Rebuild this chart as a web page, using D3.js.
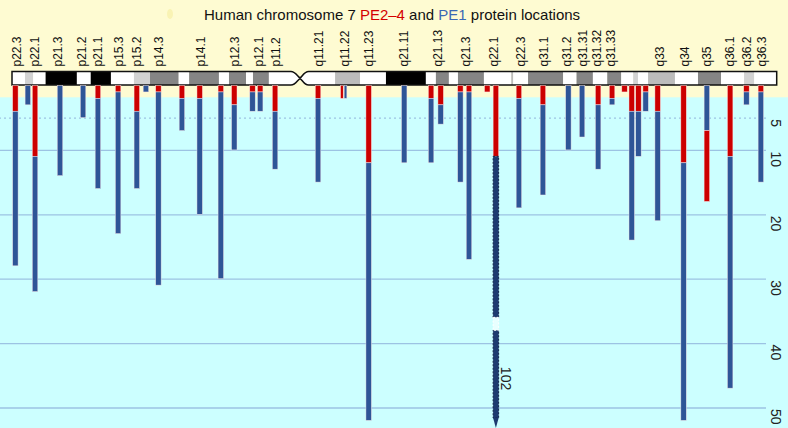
<!DOCTYPE html>
<html><head><meta charset="utf-8">
<script src="https://cdn.jsdelivr.net/npm/d3@7"></script>
<style>html,body{margin:0;padding:0;background:#fff}svg{display:block}</style>
</head><body><svg id="chart" width="788" height="428"></svg>
<script>
// ---------- DATA ----------
const chromLength = 159.3; // Mb
const centromere = [58.1, 60.0, 61.8]; // p-arm end, waist, q-arm start (Mb)

const bandStart = [0,2.7,4.4,7.0,13.5,16.4,20.6,25.4,28.75,34.7,36.9,43.1,45.2,48.75,50.2,53.5,60.0,67.3,72.5,77.9,86.2,88.3,91.0,92.9,98.3,104.0,104.4,107.5,114.8,117.6,121.0,124.0,126.9,129.4,130.4,132.5,138.1,142.9,147.7,152.5,154.6];
const bandEnd   = [2.7,4.4,7.0,13.5,16.4,20.6,25.4,28.75,34.7,36.9,43.1,45.2,48.75,50.2,53.5,60.0,67.3,72.5,77.9,86.2,88.3,91.0,92.9,98.3,104.0,104.4,107.5,114.8,117.6,121.0,124.0,126.9,129.4,130.4,132.5,138.1,142.9,147.7,152.5,154.6,159.3];
const bandStain = ["gneg","gpos25","gneg","gpos100","gneg","gpos100","gneg","gpos25","gpos75","gneg","gpos75","gneg","gpos75","gneg","gpos75","gneg","gneg","gpos50","gneg","gpos100","gneg","gpos75","gneg","gpos75","gneg","gpos50","gneg","gpos75","gneg","gpos75","gneg","gpos75","gneg","gpos25","gneg","gpos50","gneg","gpos75","gneg","gpos25","gneg"];

const labelNames = ["p22.3","p22.1","p21.3","p21.2","p21.1","p15.3","p15.2","p14.3","p14.1","p12.3","p12.1","p11.2","q11.21","q11.22","q11.23","q21.11","q21.13","q21.3","q22.1","q22.3","q31.1","q31.2","q31.31","q31.32","q31.33","q33","q34","q35","q36.1","q36.2","q36.3"];
const labelPos   = [1.0,4.8,9.6,14.6,17.9,22.3,26.1,30.6,39.4,46.4,51.4,54.9,64.0,69.4,74.4,81.6,88.8,94.6,100.3,105.9,110.7,115.5,119.0,121.8,124.8,134.9,140.2,144.8,149.6,153.0,156.1];

const sitePos = [0.7,3.3,4.8,10.0,14.8,17.9,22.1,26.0,27.9,30.5,35.4,39.1,43.5,46.3,50.1,51.7,54.8,63.75,69.1,74.3,81.7,87.3,89.3,93.4,95.2,99.0,100.8,105.6,110.6,115.9,118.75,122.1,125.0,127.6,129.1,130.5,132.0,134.5,139.9,144.75,149.6,153.0,156.0];
const pe24Count = [4,0,11,0,0,2,1,4,0,1,2,2,1,3,1,1,4,2,2,12,0,2,3,1,1,1,11,2,3,0,0,3,2,1,4,4,1,4,12,11,11,1,1];
const pe1Count  = [24,3,21,14,5,14,22,12,1,30,5,18,29,7,3,3,9,13,2,40,12,10,3,14,26,0,91,17,14,10,8,10,1,0,20,7,3,17,40,7,36,2,14];
const siteLayout = ["stack","stack","stack","stack","stack","stack","stack","stack","stack","stack","stack","stack","stack","stack","stack","stack","stack","stack","side","stack","stack","stack","stack","stack","stack","stack","stack","stack","stack","stack","stack","stack","stack","stack","stack","stack","stack","stack","stack","pe1first","stack","stack","stack"];

const tickValues = [5,10,20,30,40,50];
const axisMax = 50;

// ---------- STYLE ----------
const W = 788, H = 428;
const RED = "#cc0000", BLUE = "#2e5597", DARK = "#1d3b70";
const stainColor = {gneg:"#ffffff", gpos25:"#d2d2d2", gpos50:"#bcbcbc", gpos75:"#858585", gpos100:"#000000"};
const FONT = "'Liberation Sans', Arial, Helvetica, sans-serif";
const barW = 5.5;

const svg = d3.select("#chart");
const x = d3.scaleLinear().domain([0, chromLength]).range([12, 776.7]);
const y = d3.scaleLinear().domain([0, axisMax]).range([85.5, 407.5]);

// backgrounds
svg.append("rect").attr("x",0).attr("y",0).attr("width",W).attr("height",H).attr("fill","#ccffff");
svg.append("rect").attr("x",0).attr("y",0).attr("width",W).attr("height",97.3).attr("fill","#fefbd2");
svg.append("ellipse").attr("cx",170).attr("cy",14).attr("rx",3).attr("ry",5).attr("fill","#f7efa6").attr("opacity",0.7);

// axis / grid
const axisG = svg.append("g").attr("transform","translate(766,0)")
  .call(d3.axisRight(y).tickValues(tickValues).tickSize(-766).tickPadding(0));
axisG.select(".domain").remove();
axisG.selectAll(".tick line").attr("stroke","#9cc3e3").attr("stroke-width",1.3)
  .attr("stroke-dasharray", d => d === 5 ? "2,3" : null);
axisG.selectAll(".tick text").attr("x",null).attr("dy",null)
  .attr("transform","translate(5,1) rotate(90)")
  .attr("text-anchor","start").attr("fill","#222")
  .style("font-family",FONT).style("font-size","14px");

// title
const title = svg.append("text").attr("x",204).attr("y",20)
  .style("font-family",FONT).style("font-size","15px").attr("fill","#111");
title.append("tspan").text("Human chromosome 7 ");
title.append("tspan").attr("fill","#d40000").text("PE2–4");
title.append("tspan").text(" and ");
title.append("tspan").attr("fill","#3a68b4").text("PE1");
title.append("tspan").text(" protein locations");

// band labels
svg.append("g").selectAll("text").data(labelNames).join("text")
  .attr("transform",(d,i)=>`translate(${x(labelPos[i])},66.5) rotate(-90)`)
  .attr("dy","0.35em").attr("text-anchor","start")
  .style("font-family",FONT).style("font-size","12px").attr("fill","#111")
  .text(d=>d);

// ideogram
const cTop = 71.5, cBot = 85, cMid = (cTop+cBot)/2;
const pe = x(centromere[0]), cw = x(centromere[1]), qs = x(centromere[2]);
const outline = `M${x(0)},${cTop} L${pe},${cTop} C${pe+5},${cTop} ${cw-2},${cMid-0.8} ${cw},${cMid-0.4} C${cw+2},${cMid-0.8} ${qs-5},${cTop} ${qs},${cTop} L${x(chromLength)},${cTop} L${x(chromLength)},${cBot} L${qs},${cBot} C${qs-5},${cBot} ${cw+2},${cMid+0.8} ${cw},${cMid+0.4} C${cw-2},${cMid+0.8} ${pe+5},${cBot} ${pe},${cBot} L${x(0)},${cBot} Z`;
svg.append("clipPath").attr("id","chromClip").append("path").attr("d",outline);
svg.append("g").attr("clip-path","url(#chromClip)").selectAll("rect").data(bandStart).join("rect")
  .attr("x",(d,i)=>x(d)).attr("width",(d,i)=>x(bandEnd[i])-x(d)+0.3)
  .attr("y",cTop).attr("height",cBot-cTop)
  .attr("fill",(d,i)=>stainColor[bandStain[i]]);
svg.append("path").attr("d",outline).attr("fill","none").attr("stroke","#111").attr("stroke-width",1.5);

// bars
const barsG = svg.append("g");
const edge = "rgba(255,235,235,0.75)";
sitePos.forEach((p,i) => {
  const r = pe24Count[i], b = pe1Count[i], cx = x(p);
  const lay = siteLayout[i];
  if (lay === "side") {
    if (r) barsG.append("rect").attr("x",cx-3.15).attr("width",2.7).attr("y",y(0)).attr("height",y(r)-y(0))
      .attr("fill",RED).attr("stroke",edge).attr("stroke-width",0.6);
    if (b) barsG.append("rect").attr("x",cx+0.45).attr("width",2.7).attr("y",y(0)).attr("height",y(b)-y(0))
      .attr("fill",BLUE).attr("stroke",edge).attr("stroke-width",0.6);
    return;
  }
  const segs = lay === "pe1first" ? [[b,BLUE],[r,RED]] : [[r,RED],[b,BLUE]];
  let acc = 0;
  const total = r + b;
  const broken = total > axisMax + 10;
  segs.forEach(([v,col],k) => {
    if (!v) return;
    const y0 = y(acc);
    acc += v;
    if (broken && col === BLUE) {
      const gapTop = y(36), gapBot = y(38), endY = H - 10;
      [[y0, gapTop],[gapBot, endY]].forEach(([a,bb]) => {
        barsG.append("rect").attr("x",cx-barW/2).attr("width",barW).attr("y",a).attr("height",bb-a)
          .attr("fill",DARK).attr("stroke","#102448").attr("stroke-width",1).attr("stroke-dasharray","2,1.5");
      });
      barsG.append("rect").attr("x",cx-barW/2).attr("width",barW).attr("y",gapTop).attr("height",gapBot-gapTop)
        .attr("fill","#e8ffff").attr("stroke","#ffffff").attr("stroke-width",1).attr("stroke-dasharray","2,1.5");
      barsG.append("path").attr("d",`M${cx-barW/2},${endY} L${cx+barW/2},${endY} L${cx},${H} Z`).attr("fill",DARK);
      barsG.append("text").attr("transform",`translate(${cx+5.5},${(y(44)+y(47))/2}) rotate(90)`)
        .attr("text-anchor","middle").style("font-family",FONT).style("font-size","14px").attr("fill","#222")
        .text(total);
    } else {
      barsG.append("rect").attr("x",cx-barW/2).attr("width",barW).attr("y",y0).attr("height",y(acc)-y0)
        .attr("fill",col).attr("stroke",edge).attr("stroke-width",0.6);
    }
  });
});
</script></body></html>
